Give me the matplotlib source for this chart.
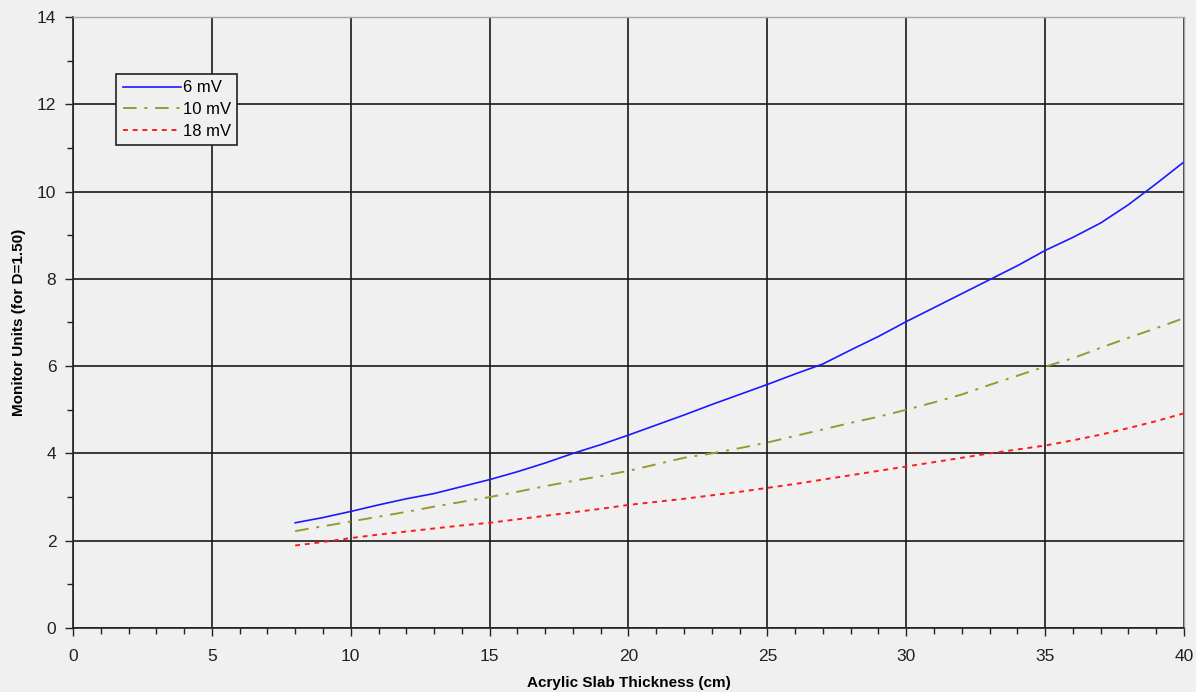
import numpy as np
import matplotlib.pyplot as plt
from matplotlib.ticker import MultipleLocator

# --- data ---
thickness = list(range(8, 41))

mu_6mv = [2.41, 2.53, 2.67, 2.82, 2.96, 3.08, 3.24, 3.40, 3.58, 3.78,
          4.00, 4.20, 4.42, 4.65, 4.88, 5.12, 5.35, 5.58, 5.82, 6.05,
          6.37, 6.68, 7.02, 7.34, 7.66, 7.98, 8.30, 8.65, 8.95, 9.28,
          9.70, 10.18, 10.68]
mu_10mv = [2.22, 2.33, 2.44, 2.55, 2.66, 2.78, 2.89, 3.00, 3.12, 3.25,
           3.37, 3.48, 3.60, 3.75, 3.90, 4.00, 4.12, 4.25, 4.40, 4.55,
           4.70, 4.84, 5.00, 5.17, 5.35, 5.57, 5.78, 5.99, 6.18, 6.42,
           6.65, 6.87, 7.10]
mu_18mv = [1.89, 1.97, 2.06, 2.14, 2.21, 2.28, 2.35, 2.41, 2.49, 2.57,
           2.65, 2.73, 2.82, 2.89, 2.96, 3.04, 3.12, 3.21, 3.30, 3.40,
           3.50, 3.60, 3.70, 3.80, 3.90, 4.00, 4.09, 4.18, 4.30, 4.43,
           4.58, 4.74, 4.92]

series_labels = ["6 mV", "10 mV", "18 mV"]

bg = "#f0f0f0"
plt.rcParams['font.family'] = ['Liberation Sans', 'DejaVu Sans']

fig = plt.figure(figsize=(11.96, 6.92), dpi=100, facecolor=bg)
ax = fig.add_axes([0.061, 0.0925, 0.929, 0.883], facecolor=bg)

ax.plot(thickness, mu_6mv, color='#1a1aff', lw=1.2, ls='-', label=series_labels[0])
ax.plot(thickness, mu_10mv, color='#999933', lw=1.4, ls=(0, (7, 4, 1.5, 4)), label=series_labels[1])
ax.plot(thickness, mu_18mv, color='#ff1a1a', lw=1.4, ls=(0, (2.5, 2.5)), label=series_labels[2])

ax.set_xlim(0, 40)
ax.set_ylim(0, 14)
ax.xaxis.set_major_locator(MultipleLocator(5))
ax.xaxis.set_minor_locator(MultipleLocator(1))
ax.yaxis.set_major_locator(MultipleLocator(2))
ax.yaxis.set_minor_locator(MultipleLocator(1))

ax.grid(True, which='major', color='#1a1a1a', lw=1.2)
ax.set_axisbelow(True)

ax.tick_params(which='major', direction='out', length=6, width=1, colors='#222222', labelsize=12.5, pad=6)
ax.tick_params(which='minor', direction='out', length=4, width=1, colors='#222222')
ax.tick_params(axis='x', pad=9)

for side in ['left', 'bottom']:
    ax.spines[side].set_color('#222222')
    ax.spines[side].set_linewidth(1.2)
for side in ['top', 'right']:
    ax.spines[side].set_color('#a8a8a8')
    ax.spines[side].set_linewidth(1.0)

ax.set_xlabel("Acrylic Slab Thickness (cm)", fontsize=11, fontweight='bold', labelpad=9)
ax.set_ylabel("Monitor Units (for D=1.50)", fontsize=11, fontweight='bold', labelpad=8)

leg = ax.legend(loc='upper left', bbox_to_anchor=(0.0387, 0.907), fontsize=12,
                frameon=True, fancybox=False, handlelength=3.5, handletextpad=0.1,
                borderpad=0.4, labelspacing=0.4, borderaxespad=0)
leg.get_frame().set_edgecolor('#222222')
leg.get_frame().set_facecolor(bg)
leg.get_frame().set_alpha(1)
leg.get_frame().set_linewidth(1.2)

fig.savefig("out.png", dpi=100, facecolor=bg)
